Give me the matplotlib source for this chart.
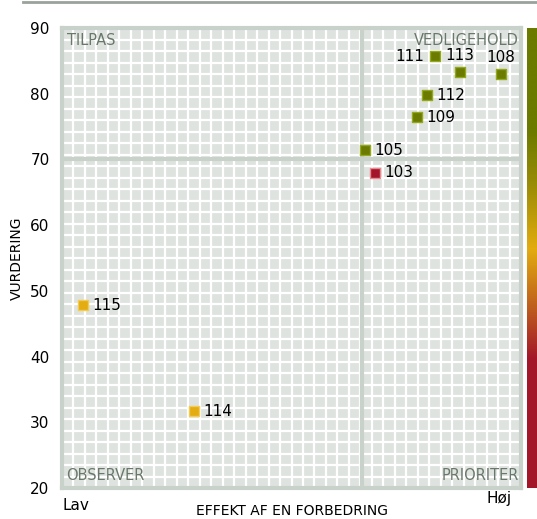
import matplotlib.pyplot as plt
import numpy as np
from matplotlib.colors import LinearSegmentedColormap

# data
ids = ["111", "113", "108", "112", "109", "105", "103", "115", "114"]
effekt = [81.3, 86.7, 95.6, 79.5, 77.3, 66.0, 68.2, 4.6, 28.8]
vurdering = [85.7, 83.3, 83.0, 79.8, 76.4, 71.4, 68.0, 47.8, 31.7]
farve = ["g", "g", "g", "g", "g", "g", "r", "y", "y"]
yticks = [20, 30, 40, 50, 60, 70, 80, 90]
kvadranter = ["TILPAS", "VEDLIGEHOLD", "OBSERVER", "PRIORITER"]

fyld = {"g": "#6b7a00", "r": "#a3162a", "y": "#e3ac10"}
kant = {"g": "#93a81a", "r": "#e88a90", "y": "#f2cc55"}
placering = {"111": "left", "113": "top", "108": "top"}

fig = plt.figure(figsize=(5.37, 5.19), dpi=100)
W, H = 537, 519
ax = fig.add_axes([62 / W, (H - 488) / H, 459 / W, 460 / H])

ax.set_xlim(0, 100)
ax.set_ylim(20, 90)
ax.set_facecolor("#dfe3e0")
ax.set_xticks(np.linspace(0, 100, 41), minor=True)
ax.set_yticks(np.linspace(20, 90, 41), minor=True)
ax.set_xticks([])
ax.set_yticks(yticks)
ax.set_yticklabels([str(t) for t in yticks], fontsize=11)
ax.grid(which="minor", color="white", linewidth=1.6)
ax.tick_params(which="both", length=0, pad=9)
for s in ax.spines.values():
    s.set_color("#c9d2ca")
    s.set_linewidth(3)

ax.axvline(65.4, color="#c9d2ca", linewidth=3, zorder=2)
ax.axhline(70, color="#c9d2ca", linewidth=3, zorder=2)

for i, x, y, f in zip(ids, effekt, vurdering, farve):
    ax.scatter(x, y, s=62, marker="s", color=fyld[f], edgecolors=kant[f],
               linewidths=1.0, zorder=4)
    p = placering.get(i, "right")
    if p == "right":
        ax.text(x + 2.0, y, i, fontsize=11, va="center", ha="left", zorder=5)
    elif p == "left":
        ax.text(x - 2.3, y, i, fontsize=11, va="center", ha="right", zorder=5)
    else:
        ax.text(x, y + 1.4, i, fontsize=11, va="bottom", ha="center", zorder=5)

kc = "#6a786c"
ax.text(1, 89.3, kvadranter[0], color=kc, fontsize=10.5, va="top", ha="left")
ax.text(99.5, 89.3, kvadranter[1], color=kc, fontsize=10.5, va="top", ha="right")
ax.text(1, 20.7, kvadranter[2], color=kc, fontsize=10.5, va="bottom", ha="left")
ax.text(99.5, 20.7, kvadranter[3], color=kc, fontsize=10.5, va="bottom", ha="right")

fig.text(17 / W, 1 - 258 / H, "VURDERING", fontsize=10, rotation=90,
         ha="center", va="center")
fig.text(292 / W, 1 - 511 / H, "EFFEKT AF EN FORBEDRING", fontsize=10,
         ha="center", va="center")
fig.text(62 / W, 1 - 505 / H, "Lav", fontsize=11, ha="left", va="center")
fig.text(512 / W, 1 - 499 / H, "Høj", fontsize=11, ha="right", va="center")

# farveskala
cax = fig.add_axes([527 / W, (H - 488) / H, 11 / W, 460 / H])
cmap = LinearSegmentedColormap.from_list(
    "skala", [(0, "#a3162a"), (0.28, "#a3162a"), (0.4, "#c0621c"),
              (0.52, "#e3ac10"), (0.66, "#9a8c06"), (0.78, "#6b7a00"),
              (1, "#6b7a00")])
cax.imshow(np.linspace(1, 0, 256).reshape(-1, 1), aspect="auto", cmap=cmap,
           vmin=0, vmax=1)
cax.axis("off")

# linje i toppen
fig.add_artist(plt.Line2D([23 / W, 1], [1 - 2 / H, 1 - 2 / H],
                          color="#9aa29c", linewidth=2))

fig.savefig("out.png", dpi=100)
